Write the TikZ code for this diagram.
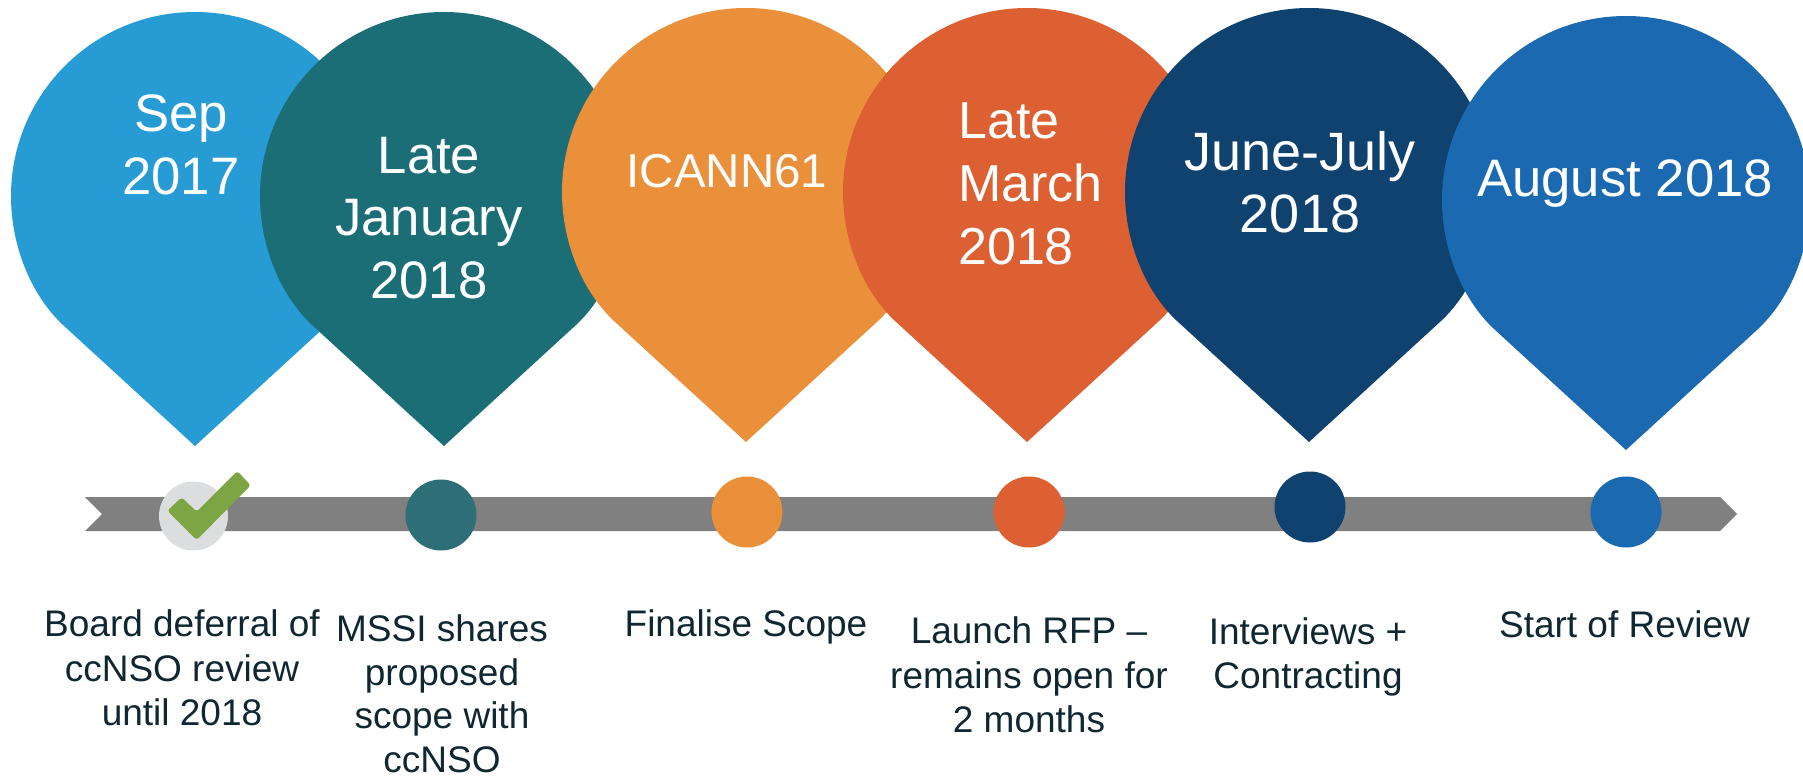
\documentclass[tikz,border=0pt]{standalone}
\usepackage{fontspec}
\setmainfont{Liberation Sans}
\definecolor{cA}{HTML}{279BD4}
\definecolor{cB}{HTML}{1B6E75}
\definecolor{cBb}{HTML}{2E6F77}
\definecolor{cC}{HTML}{EA8F3A}
\definecolor{cD}{HTML}{DC6032}
\definecolor{cE}{HTML}{0F426E}
\definecolor{cF}{HTML}{1A69B1}
\definecolor{barc}{HTML}{808080}
\definecolor{grayc}{HTML}{DCDDDE}
\definecolor{checkc}{HTML}{7DA544}
\definecolor{capc}{HTML}{0F2730}
\tikzset{x=1pt,y=-1pt,
  pintext/.style={text=white,font=\fontsize{52.7}{62.5}\selectfont,align=center,inner sep=0pt},
  caption/.style={text=capc,font=\fontsize{37}{44.5}\selectfont,align=center,inner sep=0pt},
  dot/.style={circle,minimum size=71pt,inner sep=0pt}}
\newcommand{\pinshape}[3]{% x, tip y, colour
  \begin{scope}[shift={(#1,#2)}]
  \fill[#3] (0,0) -- (-132,-121) .. controls (-164,-151) and (-184,-200) .. (-184,-250)
    arc[start angle=180,end angle=360,radius=184]
    .. controls (184,-200) and (164,-151) .. (132,-121) -- cycle;
  \end{scope}}
\begin{document}
\begin{tikzpicture}
\useasboundingbox (0,0) rectangle (1803,779);
\pinshape{195}{446}{cA}
\pinshape{444}{446}{cB}
\pinshape{746}{442}{cC}
\pinshape{1027}{442}{cD}
\pinshape{1309}{442}{cE}
\pinshape{1626}{450}{cF}
\fill[barc] (85,497) -- (1720,497) -- (1737,514) -- (1720,531) -- (85,531) -- (102,514) -- cycle;
\node[dot,fill=grayc,minimum size=69pt] (d1) at (193.5,516) {};
\fill[checkc,rounded corners=3pt] (167.3,510.7) -- (181.7,497.3) -- (196.7,511.7) -- (237.3,471) -- (250.7,485.3) -- (196.7,540) -- cycle;
\node[dot,fill=cBb] (d2) at (441,515) {};
\node[dot,fill=cC] (d3) at (747,512) {};
\node[dot,fill=cD] (d4) at (1029,512) {};
\node[dot,fill=cE] (d5) at (1310,507) {};
\node[dot,fill=cF] (d6) at (1626,512) {};
\node[pintext] (p1) at (181,145) {Sep\\2017};
\node[pintext] (p2) at (429,218) {Late\\January\\2018};
\node[pintext,font=\fontsize{47.5}{56}\selectfont] (p3) at (727,171) {ICANN61};
\node[pintext,align=left,anchor=west,font=\fontsize{52}{63}\selectfont] (p4) at (958,184) {Late\\March\\2018};
\node[pintext,font=\fontsize{54}{62}\selectfont] (p5) at (1300,182) {June-July\\2018};
\node[pintext] (p6) at (1625,184) {August 2018};
\node[caption] (t1) at (182,668) {Board deferral of\\ccNSO review\\until 2018};
\node[caption,font=\fontsize{37}{43.5}\selectfont] (t2) at (442,694) {MSSI shares\\proposed\\scope with\\ccNSO};
\node[caption] (t3) at (746,627) {Finalise Scope};
\node[caption] (t4) at (1029,675) {Launch RFP --\\remains open for\\2 months};
\node[caption] (t5) at (1308,657) {Interviews +\\Contracting};
\node[caption] (t6) at (1624.5,624) {Start of Review};
\end{tikzpicture}
\end{document}
